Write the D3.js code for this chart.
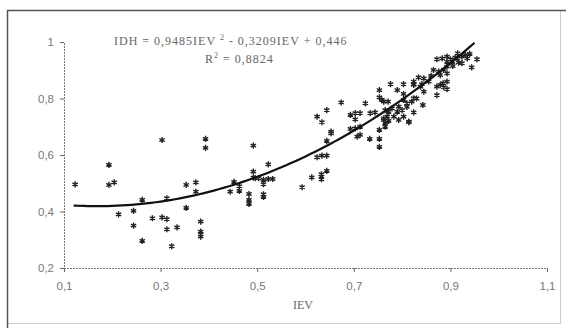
<!DOCTYPE html>
<html><head><meta charset="utf-8">
<script src="https://cdn.jsdelivr.net/npm/d3@7"></script>
<style>
html,body{margin:0;padding:0;background:#fff;}
svg{display:block;}
</style></head>
<body>
<script>
// ---- data ----
const iev = [0.123,0.193,0.193,0.204,0.213,0.244,0.244,0.262,0.262,0.283,0.303,0.303,0.313,0.313,0.313,0.323,0.334,0.353,0.353,0.373,0.373,0.383,0.383,0.383,0.383,0.393,0.393,0.444,0.452,0.463,0.463,0.483,0.483,0.483,0.492,0.492,0.492,0.496,0.503,0.513,0.513,0.523,0.523,0.532,0.513,0.513,0.593,0.613,0.624,0.634,0.644,0.633,0.633,0.633,0.644,0.624,0.634,0.644,0.653,0.653,0.644,0.674,0.693,0.703,0.713,0.703,0.724,0.693,0.703,0.713,0.707,0.713,0.733,0.753,0.753,0.753,0.734,0.744,0.753,0.753,0.762,0.771,0.765,0.772,0.762,0.765,0.772,0.765,0.776,0.790,0.803,0.803,0.779,0.790,0.793,0.783,0.793,0.803,0.810,0.820,0.824,0.814,0.824,0.843,0.824,0.841,0.845,0.872,0.886,0.893,0.872,0.955,0.944,0.872,0.883,0.893,0.900,0.893,0.904,0.914,0.924,0.931,0.935,0.924,0.917,0.865,0.876,0.886,0.893,0.879,0.893,0.893,0.879,0.885,0.834,0.824,0.838,0.824,0.845,0.769,0.762,0.758,0.800,0.803,0.814,0.810,0.830,0.855,0.860,0.905,0.915,0.940,0.910];
const idh = [0.496,0.565,0.494,0.503,0.390,0.402,0.350,0.441,0.296,0.376,0.653,0.379,0.373,0.447,0.337,0.277,0.344,0.494,0.413,0.503,0.470,0.364,0.329,0.320,0.311,0.657,0.625,0.470,0.505,0.490,0.473,0.462,0.441,0.427,0.633,0.541,0.520,0.518,0.518,0.512,0.497,0.567,0.515,0.515,0.461,0.452,0.486,0.521,0.592,0.598,0.598,0.532,0.523,0.514,0.544,0.736,0.716,0.759,0.683,0.677,0.650,0.786,0.742,0.748,0.748,0.726,0.783,0.692,0.694,0.700,0.665,0.671,0.657,0.689,0.657,0.629,0.748,0.751,0.830,0.804,0.789,0.789,0.759,0.753,0.730,0.714,0.721,0.700,0.851,0.830,0.851,0.816,0.765,0.753,0.771,0.736,0.724,0.795,0.783,0.789,0.801,0.716,0.751,0.777,0.851,0.851,0.824,0.842,0.840,0.833,0.812,0.939,0.910,0.939,0.942,0.948,0.939,0.930,0.930,0.942,0.948,0.954,0.942,0.925,0.927,0.901,0.895,0.901,0.913,0.883,0.889,0.860,0.848,0.854,0.875,0.860,0.842,0.848,0.871,0.736,0.724,0.795,0.759,0.736,0.718,0.770,0.800,0.860,0.880,0.915,0.960,0.958,0.945];
const xTicks = [0.1,0.3,0.5,0.7,0.9,1.1];
const yTicks = [0.2,0.4,0.6,0.8,1.0];
const coef = [0.9485,-0.3209,0.446];   // trendline IDH = a*IEV^2 + b*IEV + c
const trendRange = [0.12,0.95];
const eqText = "IDH = 0,9485IEV ";
const eqText2 = " - 0,3209IEV + 0,446";
const r2Text = "0,8824";
const xTitle = "IEV";

const W=566,H=329;
const svg=d3.select("body").append("svg").attr("width",W).attr("height",H);
svg.append("rect").attr("width",W).attr("height",H).attr("fill","#fff");

// frame
svg.append("rect").attr("x",7.5).attr("y",10.5).attr("width",553).attr("height",313)
  .attr("fill","none").attr("stroke","#ccc").attr("stroke-width",1);
svg.append("path").attr("d","M7.5,328V10.5H566").attr("fill","none").attr("stroke","#555").attr("stroke-width",1.5);

const x=d3.scaleLinear().domain([0.1,1.1]).range([64,547]);
const y=d3.scaleLinear().domain([0.2,1.0]).range([268,42]);
const fmt=d=>(d===1?"1":d3.format(".1f")(d).replace(".",","));

const xa=svg.append("g").attr("transform","translate(0,268)")
  .call(d3.axisBottom(x).tickValues(xTicks).tickSize(4).tickPadding(10).tickFormat(fmt));
const ya=svg.append("g").attr("transform","translate(64,0)")
  .call(d3.axisLeft(y).tickValues(yTicks).tickSize(4).tickPadding(6).tickFormat(fmt));
[xa,ya].forEach(g=>{
  g.select(".domain").attr("stroke","#777").attr("stroke-width",1).attr("stroke-dasharray","2,1");
  g.selectAll(".tick line").attr("stroke","#666");
  g.selectAll("text").attr("fill","#777").attr("font-family","Liberation Sans, Arial, sans-serif").attr("font-size",11.5);
});

// points
const star=d3.symbol().type(d3.symbolAsterisk).size(26);
svg.append("g").selectAll("path").data(iev.map((v,i)=>[v,idh[i]])).join("path")
  .attr("d",star).attr("transform",d=>`translate(${x(d[0])},${y(d[1])})`)
  .attr("fill","none").attr("stroke","#222").attr("stroke-width",1.4);

// trendline
const xs=d3.range(trendRange[0],trendRange[1]+1e-9,0.01);
const line=d3.line().x(d=>x(d)).y(d=>y(coef[0]*d*d+coef[1]*d+coef[2])).curve(d3.curveBasis);
svg.append("path").datum(xs).attr("d",line).attr("fill","none").attr("stroke","#111").attr("stroke-width",2.2);

// equation text
const tf="Liberation Serif, Times New Roman, serif";
const t1=svg.append("text").attr("x",114).attr("y",45).attr("font-family",tf).attr("font-size",12).attr("fill","#666").attr("letter-spacing","1");
t1.append("tspan").text(eqText);
t1.append("tspan").attr("dy",-5).attr("font-size",8).text("2");
t1.append("tspan").attr("dy",5).text(eqText2);
const t2=svg.append("text").attr("x",205).attr("y",63).attr("font-family",tf).attr("font-size",12).attr("fill","#666").attr("letter-spacing","1");
t2.append("tspan").text("R");
t2.append("tspan").attr("dy",-5).attr("font-size",8).text("2");
t2.append("tspan").attr("dy",5).text(" = "+r2Text);

svg.append("text").attr("x",303).attr("y",309).attr("text-anchor","middle").attr("font-family",tf).attr("font-size",12).attr("fill","#666").text(xTitle);
</script>
</body></html>
